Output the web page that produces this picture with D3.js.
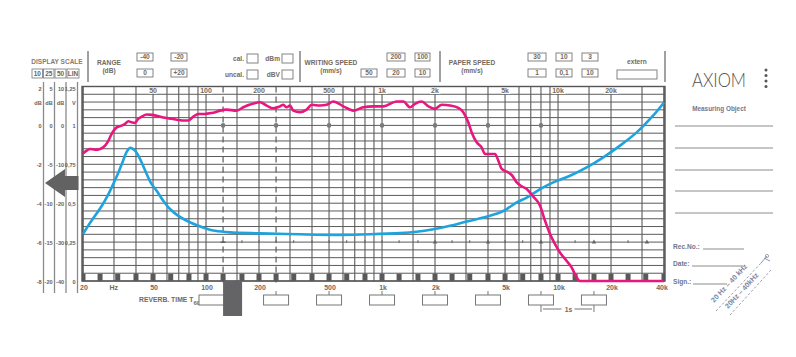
<!DOCTYPE html>
<html>
<head>
<meta charset="utf-8">
<script src="https://cdn.jsdelivr.net/npm/d3@7"></script>
<style>
  html, body { margin: 0; padding: 0; background: #fff; }
  svg { display: block; font-family: "Liberation Sans", Arial, sans-serif; }
</style>
</head>
<body>
<svg id="chart" width="796" height="357"></svg>
<script>
// ---- data (Hz / dB on the 10 dB scale) ----
const magentaFreq = [20, 21, 21.9, 23.4, 25, 26.7, 27.9, 29.1, 31.1, 33.2, 34.7, 36.2, 37.8, 39.5, 41.2, 43.1,
  46, 49.1, 53.6, 58.5, 63.8, 69.6, 76, 79.3, 84.7, 90.4, 98.6, 107.7, 112.5, 120, 131, 149, 163, 178, 203,
  221, 241, 263, 275, 287, 300, 313, 342, 373, 399, 444, 485, 529, 603, 687, 783, 892, 1017, 1211, 1321,
  1442, 1539, 1680, 1832, 2000, 2183, 2434, 2712, 2895, 3090, 3232, 3450, 3682, 3846, 4106, 4385, 4578,
  4787, 5109, 5455, 5823, 6217, 6636, 7212, 7905, 8440, 9008, 9617, 10265, 11200, 11960, 12480, 13330, 40000];
const magentaLevel = [-1.44, -1.30, -1.21, -1.25, -1.21, -1.04, -0.78, -0.44, -0.10, -0.01, 0.08, 0.21, 0.16,
  0.13, 0.34, 0.45, 0.56, 0.54, 0.47, 0.39, 0.34, 0.28, 0.25, 0.25, 0.45, 0.59, 0.59, 0.64, 0.68, 0.76, 0.81,
  0.76, 0.93, 1.07, 1.19, 1.02, 0.88, 0.98, 1.06, 0.93, 1.02, 0.76, 0.68, 0.81, 1.06, 1.02, 1.06, 1.23, 0.98,
  0.76, 0.93, 0.98, 0.98, 1.23, 1.23, 0.93, 1.11, 1.23, 0.98, 0.85, 1.06, 1.02, 0.90, 0.68, 0.16, -0.36,
  -0.87, -1.13, -1.47, -1.47, -1.47, -1.81, -2.24, -2.38, -2.55, -2.93, -3.13, -3.27, -3.65, -4.13, -4.91,
  -5.59, -6.11, -6.54, -6.97, -7.31, -7.65, -8.0, -8.0];

const blueFreq = [20, 21.4, 23.4, 25.6, 27.9, 29.7, 31.7, 33.9, 35.4, 37, 39.5, 42.2, 46, 49.1, 52.4, 57.2,
  62.4, 69.6, 79.3, 90.4, 103, 112.5, 137, 203, 342, 577, 855, 1265, 1574, 1956, 2434, 3027, 3762, 4679,
  5109, 5823, 6636, 7236, 8247, 9400, 11700, 14550, 18080, 22500, 27990, 34770, 40000];
const blueLevel = [-5.59, -5.16, -4.65, -4.13, -3.53, -3.02, -2.45, -1.78, -1.36, -1.15, -1.30, -1.73, -2.50,
  -3.02, -3.36, -3.88, -4.30, -4.65, -4.94, -5.16, -5.34, -5.42, -5.50, -5.55, -5.60, -5.63, -5.60, -5.54,
  -5.47, -5.34, -5.16, -4.94, -4.74, -4.48, -4.30, -3.96, -3.71, -3.50, -3.19, -2.93, -2.59, -2.16, -1.64,
  -1.04, -0.36, 0.51, 1.18];

// paper grid
const gridFreqs = [20, 30, 40, 50, 60, 70, 80, 90, 100, 150, 200, 300, 400, 500, 600, 700, 800, 900,
  1000, 1500, 2000, 3000, 4000, 5000, 6000, 7000, 8000, 9000, 10000, 15000, 20000, 30000, 40000];
const topLabels = ['50', '100', '200', '500', '1k', '2k', '5k', '10k', '20k'];
const topLabelFreqs = [50, 100, 200, 500, 1000, 2000, 5000, 10000, 20000];
const bottomLabels = ['20', 'Hz', '50', '100', '200', '500', '1k', '2k', '5k', '10k', '20k', '40k'];
const bottomLabelFreqs = [20, 29.5, 50, 100, 200, 500, 1000, 2000, 5000, 10000, 20000, 40000];
const dashedFreqs = [125, 250];
const octaveDots = [125, 250, 500, 1000, 2000, 4000, 8000];
const triangleFreqs = [2000, 4000, 8000, 16000, 32000];
const thirdOctaves = [20, 25, 31.5, 40, 50, 63, 80, 100, 125, 160, 200, 250, 315, 400, 500, 630, 800, 1000,
  1250, 1600, 2000, 2500, 3150, 4000, 5000, 6300, 8000, 10000, 12500, 16000, 20000, 25000, 31500, 40000];
const reverbBands = [250, 500, 1000, 2000, 4000, 8000, 16000];

// display scale columns
const scaleRowLevels = [2, 1.2, 0, -2, -4, -6, -8];
const scale10 = ['2', 'dB', '0', '-2', '-4', '-6', '-8'];
const scale25 = ['5', 'dB', '0', '-5', '-10', '-15', '-20'];
const scale50 = ['10', 'dB', '0', '-10', '-20', '-30', '-40'];
const scaleLin = ['1,25', 'V', '1', '0,75', '0,5', '0,25', '0'];
const displayScaleLabels = ['10', '25', '50', 'LIN'];

const svg = d3.select('#chart');
const ink = '#5b5b5b';
const label = '#75695f';
const blueGrey = '#6f7790';

const x = d3.scaleLog().domain([20, 40000]).range([83, 664]);
const y = d3.scaleLinear().domain([2, -8]).range([86.5, 281]);
const left = x(20) - 1, right = x(40000) + 1;

// ---------- grid ----------
const grid = svg.append('g');
grid.selectAll('line.h')
  .data(d3.range(26).map(i => 2 - i * 0.4))
  .join('line')
    .attr('x1', left).attr('x2', right)
    .attr('y1', d => y(d)).attr('y2', d => y(d))
    .attr('stroke', ink).attr('stroke-width', 1);

grid.selectAll('line.v')
  .data(gridFreqs)
  .join('line')
    .attr('x1', d => x(d)).attr('x2', d => x(d))
    .attr('y1', y(2)).attr('y2', y(-8))
    .attr('stroke', ink).attr('stroke-width', d => (d === 20 || d === 40000) ? 1.6 : 1.1);

grid.selectAll('line.dash')
  .data(dashedFreqs)
  .join('line')
    .attr('x1', d => x(d)).attr('x2', d => x(d))
    .attr('y1', y(2)).attr('y2', y(-8) + 2)
    .attr('stroke', ink).attr('stroke-width', 1.2)
    .attr('stroke-dasharray', '6,4');

// top frequency labels, knocked out of the grid
grid.selectAll('text.top')
  .data(topLabels)
  .join('text')
    .attr('x', (d, i) => x(topLabelFreqs[i]))
    .attr('y', y(2) + 6.5)
    .attr('text-anchor', 'middle')
    .attr('font-size', 7).attr('font-weight', 'bold')
    .attr('fill', label)
    .attr('stroke', '#fff').attr('stroke-width', 2).attr('paint-order', 'stroke')
    .text(d => d);

// 1/3 octave squares along bottom row
svg.append('clipPath').attr('id', 'plotClip')
  .append('rect').attr('x', left).attr('y', y(2)).attr('width', right - left).attr('height', y(-8) - y(2));
svg.append('g').attr('clip-path', 'url(#plotClip)')
  .selectAll('rect')
  .data(thirdOctaves)
  .join('rect')
    .attr('x', d => x(d) - 2.5).attr('width', 5)
    .attr('y', y(-7.6) + 0.5).attr('height', 7)
    .attr('fill', '#595959');

// octave dots on 0 dB
svg.append('g').selectAll('circle')
  .data(octaveDots)
  .join('circle')
    .attr('cx', d => x(d)).attr('cy', y(0))
    .attr('r', 2.3).attr('fill', '#7b7b7b');

// tick row at -6 dB
const tickRow = svg.append('g');
const rowY = y(-6);
tickRow.selectAll('line')
  .data(thirdOctaves.filter(f => f > 125 && !triangleFreqs.includes(f) && f !== 31500 && f !== 40000))
  .join('line')
    .attr('x1', d => x(d)).attr('x2', d => x(d))
    .attr('y1', rowY - 2).attr('y2', rowY + 1)
    .attr('stroke', '#666').attr('stroke-width', 1);
tickRow.append('line')
  .attr('x1', x(125) - 2.5).attr('x2', x(125) + 2.5)
  .attr('y1', rowY).attr('y2', rowY)
  .attr('stroke', '#444').attr('stroke-width', 1);
tickRow.selectAll('path')
  .data(triangleFreqs)
  .join('path')
    .attr('d', d => `M${x(d) - 2.2},${rowY + 1.5}L${x(d) + 2.2},${rowY + 1.5}L${x(d)},${rowY - 2.5}Z`)
    .attr('fill', '#666');

// plot frame
svg.append('rect')
  .attr('x', left).attr('y', y(2))
  .attr('width', right - left).attr('height', y(-8) - y(2))
  .attr('fill', 'none').attr('stroke', '#555').attr('stroke-width', 1.4);

// ---------- curves ----------
const line = d3.line()
  .x(d => x(d[0]))
  .y(d => y(d[1]))
  .curve(d3.curveMonotoneX);
const smoothLine = d3.line()
  .x(d => x(d[0]))
  .y(d => y(d[1]))
  .curve(d3.curveCatmullRom.alpha(0.5));

svg.append('path')
  .datum(blueFreq.map((f, i) => [f, blueLevel[i]]))
  .attr('d', smoothLine)
  .attr('fill', 'none').attr('stroke', '#1fa3de').attr('stroke-width', 2.6)
  .attr('stroke-linejoin', 'round');

svg.append('path')
  .datum(magentaFreq.map((f, i) => [f, magentaLevel[i]]))
  .attr('d', line)
  .attr('fill', 'none').attr('stroke', '#e8177f').attr('stroke-width', 2.6)
  .attr('stroke-linejoin', 'round');

// ---------- bottom frequency labels ----------
svg.append('g').selectAll('text')
  .data(bottomLabels)
  .join('text')
    .attr('x', (d, i) => x(bottomLabelFreqs[i]) + (d === '40k' ? -2 : 1))
    .attr('y', y(-8) + 9)
    .attr('text-anchor', 'middle')
    .attr('font-size', 7).attr('font-weight', 'bold')
    .attr('fill', label)
    .text(d => d);

// ---------- display scale (left) ----------
const ds = svg.append('g');
ds.append('text').attr('x', 57).attr('y', 64)
  .attr('text-anchor', 'middle').attr('font-size', 6.5).attr('font-weight', 'bold')
  .attr('fill', '#8a7a6c').text('DISPLAY SCALE');
const dsBoxX = [32, 43.5, 55, 67];
const dsBoxW = [10.5, 10.5, 11, 12];
ds.selectAll('rect')
  .data(displayScaleLabels)
  .join('rect')
    .attr('x', (d, i) => dsBoxX[i]).attr('y', 69)
    .attr('width', (d, i) => dsBoxW[i]).attr('height', 9)
    .attr('fill', '#fff').attr('stroke', '#777').attr('stroke-width', 0.8);
ds.selectAll('text.lbl')
  .data(displayScaleLabels)
  .join('text')
    .attr('x', (d, i) => dsBoxX[i] + dsBoxW[i] / 2).attr('y', 76)
    .attr('text-anchor', 'middle').attr('font-size', 6.5).attr('font-weight', 'bold')
    .attr('fill', '#6c625a').text(d => d);

const columns = [scale10, scale25, scale50, scaleLin];
const colX = [43.5, 54.5, 66, 77.5];
columns.forEach((col, c) => {
  ds.append('line')
    .attr('x1', colX[c]).attr('x2', colX[c])
    .attr('y1', 82).attr('y2', 293)
    .attr('stroke', '#8a8a8a').attr('stroke-width', 1.3);
  ds.selectAll(null)
    .data(col)
    .join('text')
      .attr('x', colX[c] - 1.8)
      .attr('y', (d, i) => y(scaleRowLevels[i]) + (i === 0 ? 4.5 : 2.5))
      .attr('text-anchor', 'end').attr('font-size', 5.6).attr('font-weight', 'bold')
      .attr('fill', '#6c625a').text(d => d);
});

// big arrow
ds.append('path')
  .attr('d', 'M45,183 L65,169 L65,176 L78.5,176 L78.5,190 L65,190 L65,197 Z')
  .attr('fill', '#626262');

// ---------- header ----------
const hd = svg.append('g');
const dividerX = [88, 300, 440, 665];
hd.selectAll('line')
  .data(dividerX)
  .join('line')
    .attr('x1', d => d).attr('x2', d => d)
    .attr('y1', 51).attr('y2', 82)
    .attr('stroke', '#8a8a8a').attr('stroke-width', 1.6);

function hText(str, tx, ty, anchor) {
  hd.append('text').attr('x', tx).attr('y', ty)
    .attr('text-anchor', anchor || 'middle').attr('font-size', 6.6).attr('font-weight', 'bold')
    .attr('fill', label).text(str);
}
function hBox(bx, by, bw, bh, str) {
  hd.append('rect').attr('x', bx).attr('y', by).attr('width', bw).attr('height', bh)
    .attr('fill', '#fff').attr('stroke', '#777').attr('stroke-width', 0.9);
  if (str) hText(str, bx + bw / 2, by + bh - 1.6);
}

hText('RANGE', 109, 65); hText('(dB)', 109, 72.5);
hBox(137, 53, 16, 8, '-40'); hBox(171, 53, 16, 8, '-20');
hBox(137, 69, 16, 8, '0'); hBox(171, 69, 16, 8, '+20');
hText('cal.', 244, 61, 'end'); hBox(247, 54, 11, 9);
hText('dBm', 280, 61, 'end'); hBox(282, 54, 11, 9);
hText('uncal.', 244, 77, 'end'); hBox(247, 70, 11, 9);
hText('dBV', 280, 77, 'end'); hBox(282, 70, 11, 9);

hText('WRITING SPEED', 331, 65); hText('(mm/s)', 331, 72.5);
hBox(387, 53, 18, 8, '200'); hBox(415, 53, 15, 8, '100');
hBox(361, 69, 16, 8, '50'); hBox(387, 69, 18, 8, '20'); hBox(415, 69, 15, 8, '10');

hText('PAPER SPEED', 472, 65); hText('(mm/s)', 472, 72.5);
hBox(528, 53, 18, 8, '30'); hBox(556, 53, 16, 8, '10'); hBox(582, 53, 16, 8, '3');
hBox(528, 69, 18, 8, '1'); hBox(556, 69, 16, 8, '0,1'); hBox(582, 69, 16, 8, '10');
hText('extern', 637, 64); hBox(617, 70, 40, 9);

// ---------- reverberation time row ----------
const rv = svg.append('g');
const rt = rv.append('text').attr('x', 139).attr('y', 302)
  .attr('font-size', 6.8).attr('font-weight', 'bold').attr('fill', label);
rt.append('tspan').text('REVERB. TIME T');
rt.append('tspan').attr('dy', 3).attr('font-size', 6).text('60');

rv.append('rect').attr('x', 199).attr('y', 295).attr('width', 36).attr('height', 10)
  .attr('fill', '#fff').attr('stroke', '#777').attr('stroke-width', 1);
rv.selectAll('rect.band')
  .data(reverbBands)
  .join('rect')
    .attr('x', d => x(d) - 12.5).attr('y', 295)
    .attr('width', 25).attr('height', 10)
    .attr('fill', '#fff').attr('stroke', '#777').attr('stroke-width', 1);
rv.selectAll('line.tick')
  .data(reverbBands)
  .join('line')
    .attr('x1', d => x(d)).attr('x2', d => x(d))
    .attr('y1', 291).attr('y2', 295)
    .attr('stroke', '#777').attr('stroke-width', 1);
rv.append('rect').attr('x', x(125)).attr('y', 281).attr('width', 19).attr('height', 35)
  .attr('fill', '#646466');

// 1s span between 8k and 16k
const s0 = x(8000), s1 = x(16000), sm = (s0 + s1) / 2;
rv.append('line').attr('x1', s0).attr('x2', s0).attr('y1', 305).attr('y2', 312).attr('stroke', '#777');
rv.append('line').attr('x1', s1).attr('x2', s1).attr('y1', 305).attr('y2', 312).attr('stroke', '#777');
rv.append('line').attr('x1', s0 + 2).attr('x2', sm - 6).attr('y1', 309).attr('y2', 309).attr('stroke', '#777');
rv.append('line').attr('x1', sm + 7).attr('x2', s1 - 2).attr('y1', 309).attr('y2', 309).attr('stroke', '#777');
rv.append('text').attr('x', sm + 1).attr('y', 311.5).attr('text-anchor', 'middle')
  .attr('font-size', 6.8).attr('font-weight', 'bold').attr('fill', label).text('1s');

// ---------- right panel ----------
const rp = svg.append('g');
rp.append('text').attr('x', 692).attr('y', 87)
  .attr('font-family', 'Lato, "Open Sans", sans-serif').attr('font-weight', 300)
  .attr('font-size', 19.5).attr('textLength', 54).attr('lengthAdjust', 'spacingAndGlyphs')
  .attr('fill', '#505050').text('AXIOM');
rp.selectAll('circle')
  .data([0, 1, 2, 3])
  .join('circle')
    .attr('cx', 766).attr('cy', d => 70 + d * 5.5).attr('r', 1.5).attr('fill', '#555');
rp.append('text').attr('x', 719).attr('y', 111).attr('text-anchor', 'middle')
  .attr('font-size', 6.4).attr('font-weight', 'bold').attr('fill', blueGrey).text('Measuring Object');
rp.selectAll('line.obj')
  .data([126, 148, 170, 191, 213])
  .join('line')
    .attr('x1', 675).attr('x2', 773)
    .attr('y1', d => d).attr('y2', d => d)
    .attr('stroke', '#8c8c8c').attr('stroke-width', 1);

const fields = [['Rec.No.:', 247, 703, 744], ['Date:', 264, 692, 743], ['Sign.:', 282, 693, 727]];
fields.forEach(f => {
  rp.append('text').attr('x', 673).attr('y', f[1] + 1.5)
    .attr('font-size', 6.6).attr('font-weight', 'bold').attr('fill', blueGrey).text(f[0]);
  rp.append('line').attr('x1', f[2]).attr('x2', f[3]).attr('y1', f[1] + 2).attr('y2', f[1] + 2)
    .attr('stroke', '#8c8c8c').attr('stroke-width', 1);
});

// diagonal range marks
const diag = rp.append('g');
diag.append('line').attr('x1', 716).attr('y1', 311).attr('x2', 762).attr('y2', 262)
  .attr('stroke', '#8a93aa').attr('stroke-width', 0.9).attr('stroke-dasharray', '2.5,2');
diag.append('line').attr('x1', 730).attr('y1', 315).attr('x2', 771).attr('y2', 270)
  .attr('stroke', '#8a93aa').attr('stroke-width', 0.9).attr('stroke-dasharray', '2.5,2');
diag.append('text').attr('transform', 'translate(714,303) rotate(-47)')
  .attr('font-size', 7.2).attr('font-weight', 'bold').attr('fill', '#7b86a3').text('20 Hz \u2013 40 kHz');
diag.append('text').attr('transform', 'translate(728,309) rotate(-47)')
  .attr('font-size', 7.2).attr('font-weight', 'bold').attr('fill', '#7b86a3').text('20Hz \u2013 40kHz');
diag.append('path').attr('d', 'M761,263 L767,256 M764,258 L770,261')
  .attr('stroke', '#8a93aa').attr('stroke-width', 1).attr('fill', 'none');
diag.append('circle').attr('cx', 767).attr('cy', 256).attr('r', 1.6)
  .attr('fill', 'none').attr('stroke', '#8a93aa').attr('stroke-width', 0.8);
</script>
</body>
</html>
